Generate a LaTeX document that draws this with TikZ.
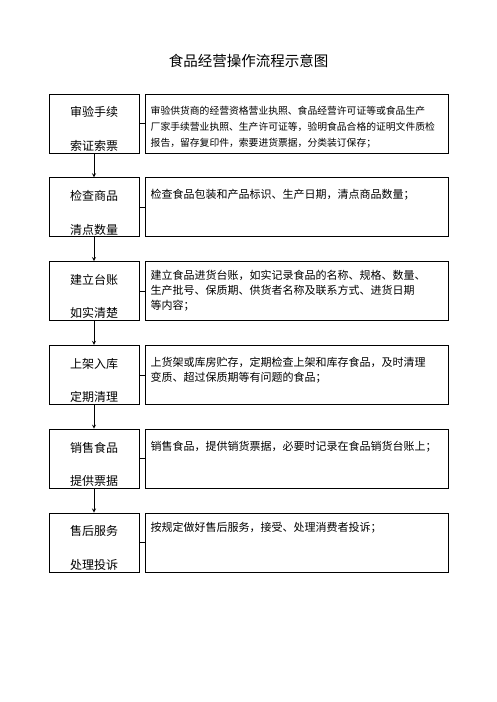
\documentclass[tikz,border=0pt]{standalone}
\usepackage{fontspec}
\setmainfont{Noto Sans CJK SC}
\usetikzlibrary{positioning}

\begin{document}
\begin{tikzpicture}[x=1pt,y=-1pt,>=stealth,
  stepbox/.style={draw,line width=1pt,minimum width=90pt,minimum height=59pt,inner sep=0pt},
  descbox/.style={draw,line width=1pt,minimum width=303pt,minimum height=59pt,inner sep=0pt},
  steplabel/.style={inner sep=0pt,font=\fontsize{12}{12}\selectfont},
  desclabel/.style={inner sep=0pt,align=left,font=\fontsize{11}{15}\selectfont},
  link/.style={line width=0.8pt}]
  \useasboundingbox (0,0) rectangle (496,702);
  \node[font=\fontsize{14.5}{14.5}\selectfont] (title) at (248.5,61) {食品经营操作流程示意图};
  % left column
  \node[stepbox] (s1) at (94,123.5) {};
  \node[stepbox,below=23.8pt of s1] (s2) {};
  \node[stepbox,below=23.8pt of s2] (s3) {};
  \node[stepbox,below=23.8pt of s3] (s4) {};
  \node[stepbox,below=23.8pt of s4] (s5) {};
  \node[stepbox,below=23.8pt of s5] (s6) {};
  \node[steplabel,below=13pt of s1.north] (s1a) {审验手续};
  \node[steplabel,above=2pt of s1.south] (s1b) {索证索票};
  \node[steplabel,below=13pt of s2.north] (s2a) {检查商品};
  \node[steplabel,above=2pt of s2.south] (s2b) {清点数量};
  \node[steplabel,below=13pt of s3.north] (s3a) {建立台账};
  \node[steplabel,above=2pt of s3.south] (s3b) {如实清楚};
  \node[steplabel,below=13pt of s4.north] (s4a) {上架入库};
  \node[steplabel,above=2pt of s4.south] (s4b) {定期清理};
  \node[steplabel,below=13pt of s5.north] (s5a) {销售食品};
  \node[steplabel,above=2pt of s5.south] (s5b) {提供票据};
  \node[steplabel,below=13pt of s6.north] (s6a) {售后服务};
  \node[steplabel,above=2pt of s6.south] (s6b) {处理投诉};
  % right column
  \node[descbox,right=5pt of s1] (d1) {};
  \node[descbox,right=5pt of s2] (d2) {};
  \node[descbox,right=5pt of s3] (d3) {};
  \node[descbox,right=5pt of s4] (d4) {};
  \node[descbox,right=5pt of s5] (d5) {};
  \node[descbox,right=5pt of s6] (d6) {};
  \node[desclabel,font=\fontsize{9.8}{16}\selectfont,below right=12pt and 6pt of d1.north west,anchor=north west] (t1)
    {审验供货商的经营资格营业执照、食品经营许可证等或食品生产\\厂家手续营业执照、生产许可证等，验明食品合格的证明文件质检\\报告，留存复印件，索要进货票据，分类装订保存；};
  \node[desclabel,below right=12pt and 6pt of d2.north west,anchor=north west] (t2)
    {检查食品包装和产品标识、生产日期，清点商品数量；};
  \node[desclabel,below right=9pt and 6pt of d3.north west,anchor=north west] (t3)
    {建立食品进货台账，如实记录食品的名称、规格、数量、\\生产批号、保质期、供货者名称及联系方式、进货日期\\等内容；};
  \node[desclabel,below right=12pt and 6pt of d4.north west,anchor=north west] (t4)
    {上货架或库房贮存，定期检查上架和库存食品，及时清理\\变质、超过保质期等有问题的食品；};
  \node[desclabel,below right=12pt and 6pt of d5.north west,anchor=north west] (t5)
    {销售食品，提供销货票据，必要时记录在食品销货台账上；};
  \node[desclabel,below right=9pt and 6pt of d6.north west,anchor=north west] (t6)
    {按规定做好售后服务，接受、处理消费者投诉；};
  % connectors
  \draw[link] (s1)--(d1);
  \draw[link] (s2)--(d2);
  \draw[link] (s3)--(d3);
  \draw[link] (s4)--(d4);
  \draw[link] (s5)--(d5);
  \draw[link] (s6)--(d6);
  \draw[link,->] (s1)--(s2);
  \draw[link,->] (s2)--(s3);
  \draw[link,->] (s3)--(s4);
  \draw[link,->] (s4)--(s5);
  \draw[link,->] (s5)--(s6);
\end{tikzpicture}
\end{document}
